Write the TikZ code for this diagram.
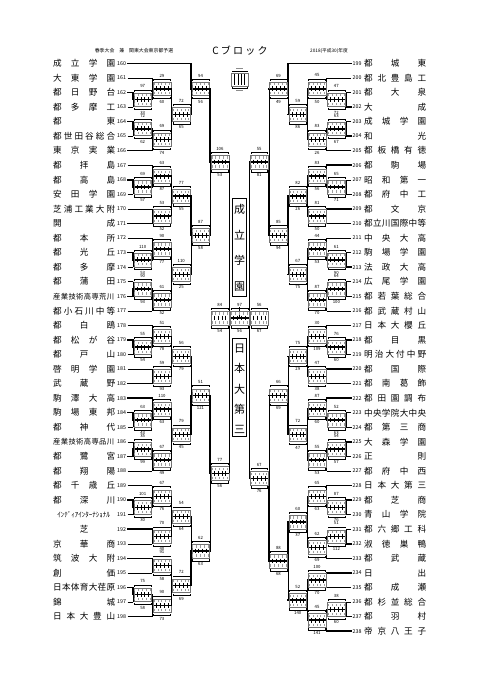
\documentclass[tikz,border=0pt]{standalone}
\usepackage{fontspec}
\setmainfont{Noto Sans CJK JP}
\makeatletter
\def\spreadchars#1{\spr@first#1\spr@end}
\def\spr@first#1{#1\spr@rest}
\def\spr@rest#1{\ifx#1\spr@end\else\hfill#1\expandafter\spr@rest\fi}
\let\spr@end\relax
\makeatother
\newcommand\setY[2]{\expandafter\xdef\csname yy#1\endcsname{#2}}
\newcommand\getY[1]{\csname yy#1\endcsname}
\tikzset{
 thinln/.style={line width=0.5pt},
 win/.style={line width=1.5pt, line cap=rect},
 boxln/.style={line width=0.3pt, draw=black!55},
 brk/.style={line width=0.35pt},
 tck/.style={line width=0.35pt},
 dig/.style={fill=black!38},
 lab/.style={font=\fontsize{4.3}{5}\selectfont, inner sep=0pt},
 num/.style={font=\fontsize{5.3}{6}\selectfont, inner sep=0pt},
 nm/.style={font=\fontsize{8.6}{9}\selectfont, inner sep=0pt},
 nmsmall/.style={font=\fontsize{7.3}{8}\selectfont, inner sep=0pt},
 big/.style={font=\fontsize{11}{11}\selectfont, inner sep=0pt},
}
\newcommand\scorebox[6]{% key xl xr ym lt lb
 \pgfmathsetmacro\sbw{(#3-#2)/5}%
 \draw[boxln] (#2+0.8,#4-6.8) rectangle (#3-0.8,#4+6.8);
 \draw[brk] (#2+1.2,#4-8.2) -- (#2+1.2,#4-9.8) -- (#3-1.2,#4-9.8) -- (#3-1.2,#4-8.2);
 \draw[brk] (#2+1.2,#4+8.2) -- (#2+1.2,#4+9.8) -- (#3-1.2,#4+9.8) -- (#3-1.2,#4+8.2);
 \foreach \j in {0,...,4}{%
   \fill[dig] (#2+\j*\sbw+\sbw/2-0.5,#4-5.6) rectangle ++(1,2.2);
   \fill[dig] (#2+\j*\sbw+\sbw/2-0.5,#4+3.4) rectangle ++(1,2.2);}
 \foreach \j in {1,...,4}{\draw[tck] (#2+\j*\sbw,#4-2.4) -- ++(0,4.8);}
 \node[lab] (#1t) at ({(#2+#3)/2},#4-13.3) {#5};
 \node[lab] (#1b) at ({(#2+#3)/2},#4+12.9) {#6};
}
\newcommand\matchL[7]{%
 \pgfmathsetmacro\xl{133+(#2-1)*19.3}%
 \pgfmathsetmacro\xr{\xl+19.3}%
 \edef\ya{\getY{#3}}\edef\yb{\getY{#4}}%
 \pgfmathsetmacro\ym{(\ya+\yb)/2}%
 \setY{#1}{\ym}%
 \draw[thinln] (\xl,\ya) -- (\xl,\yb);
 \if#5t\draw[win] (\xl,\ya) -- (\xl,\ym) -- (\xr,\ym);\else\draw[win] (\xl,\yb) -- (\xl,\ym) -- (\xr,\ym);\fi
 \scorebox{#1}{\xl}{\xr}{\ym}{#6}{#7}%
}
\newcommand\matchR[7]{%
 \pgfmathsetmacro\xo{346-(#2-1)*19.3}%
 \pgfmathsetmacro\xin{\xo-19.3}%
 \edef\ya{\getY{#3}}\edef\yb{\getY{#4}}%
 \pgfmathsetmacro\ym{(\ya+\yb)/2}%
 \setY{#1}{\ym}%
 \draw[thinln] (\xo,\ya) -- (\xo,\yb);
 \if#5t\draw[win] (\xo,\ya) -- (\xo,\ym) -- (\xin,\ym);\else\draw[win] (\xo,\yb) -- (\xo,\ym) -- (\xin,\ym);\fi
 \scorebox{#1}{\xin}{\xo}{\ym}{#6}{#7}%
}
\begin{document}
\begin{tikzpicture}[x=1pt,y=-1pt]
\fill[white] (0,0) rectangle (481,680);
\useasboundingbox (0,0) rectangle (481,680);
% header
\node[inner sep=0,font=\fontsize{4.9}{5}\selectfont] (hl) at (134,51) {春季大会　兼　関東大会東京都予選};
\node[inner sep=0,font=\fontsize{10}{10}\selectfont] (hc) at (240,51) {C\hspace{2.2pt}ブ\hspace{2.2pt}ロ\hspace{2.2pt}ッ\hspace{2.2pt}ク};
\node[inner sep=0,font=\fontsize{4.7}{5}\selectfont] (hr) at (329,51) {2018(平成30)年度};
% legend
\draw[boxln] (231,73) rectangle (248,86);
\draw[brk] (232,72) -- (232,70.8) -- (247,70.8) -- (247,72);
\draw[brk] (232,87) -- (232,88.2) -- (247,88.2) -- (247,87);
\foreach \j in {1,...,4}{\draw[tck] (231+\j*3.4,74) -- ++(0,11);}
\draw[line width=0.6pt, black!45] (236,68.3) -- (243,68.3);
\draw[line width=0.6pt, black!45] (236,90.6) -- (243,90.6);
% team positions
\foreach \i in {160,...,198}{\pgfmathsetmacro\tmpy{63.3+14.56*(\i-160)}\setY{\i}{\tmpy}}
\foreach \i in {199,...,238}{\pgfmathsetmacro\tmpy{63.3+14.56*(\i-199)}\setY{\i}{\tmpy}}
% numbers
\foreach \i in {160,...,198}{\edef\ye{\getY{\i}}\node[num,anchor=west] (num\i) at (117,\ye) {\i};}
\foreach \i in {199,...,238}{\edef\ye{\getY{\i}}\node[num,anchor=west] (num\i) at (352.5,\ye) {\i};}
% names left
\foreach \i/\nm in {160/成立学園,161/大東学園,162/都日野台,163/都多摩工,164/都東,165/都世田谷総合,166/東京実業,167/都拝島,168/都高島,169/安田学園,170/芝浦工業大附,171/開成,172/都本所,173/都光丘,174/都多摩,175/都蒲田,177/都小石川中等,178/都白鴎,179/都松が谷,180/都戸山,181/啓明学園,182/武蔵野,183/駒澤大高,184/駒場東邦,185/都神代,187/都鷺宮,188/都翔陽,189/都千歳丘,190/都深川,193/京華商,194/筑波大附,195/創価,196/日本体育大荏原,197/錦城,198/日本大豊山}{%
 \edef\ye{\getY{\i}}\node[nm,anchor=west] (nm\i) at (53,\ye) {\hbox to 62pt{\expandafter\spreadchars\expandafter{\nm}}};}
\foreach \i/\nm in {176/産業技術高専荒川,186/産業技術高専品川}{%
 \edef\ye{\getY{\i}}\node[nmsmall,anchor=west] (nm\i) at (53,\ye) {\hbox to 61pt{\expandafter\spreadchars\expandafter{\nm}}};}
\edef\ye{\getY{191}}\node[inner sep=0,anchor=west,font=\fontsize{7.0}{8}\selectfont] (nm191) at (53,\ye) {\hbox to 61pt{\hfil ｲﾝﾃﾞｨｱｲﾝﾀｰﾅｼｮﾅﾙ\hfil}};
\edef\ye{\getY{192}}\node[nm,anchor=west] (nm192) at (53,\ye) {\hbox to 62pt{\hfil 芝\hfil}};
% names right
\foreach \i/\nm in {199/都城東,200/都北豊島工,201/都大泉,202/大成,203/成城学園,204/和光,205/都板橋有徳,206/都駒場,207/昭和第一,208/都府中工,209/都文京,210/都立川国際中等,211/中央大高,212/駒場学園,213/法政大高,214/広尾学園,215/都若葉総合,216/都武蔵村山,217/日本大櫻丘,218/都目黒,219/明治大付中野,220/都国際,221/都南葛飾,222/都田園調布,223/中央学院大中央,224/都第三商,225/大森学園,226/正則,227/都府中西,228/日本大第三,229/都芝商,230/青山学院,231/都六郷工科,232/淑徳巣鴨,233/都武蔵,234/日出,235/都成瀬,236/都杉並総合,237/都羽村,238/帝京八王子}{%
 \edef\ye{\getY{\i}}\node[nm,anchor=west] (nm\i) at (364,\ye) {\hbox to 62pt{\expandafter\spreadchars\expandafter{\nm}}};}
% entry lines
\foreach \i/\w/\c in {160/1/4,161/0/2,162/1/1,163/0/1,164/1/1,165/0/1,166/1/2,167/0/2,168/1/1,169/0/1,170/0/2,171/1/2,172/0/2,173/1/1,174/0/1,175/0/1,176/1/1,177/0/2,178/0/2,179/1/1,180/0/1,181/0/2,182/1/2,183/1/2,184/1/1,185/0/1,186/0/1,187/1/1,188/0/2,189/0/2,190/1/1,191/0/1,192/1/2,193/0/2,194/1/2,195/0/2,196/1/1,197/0/1,198/0/2}{%
 \edef\ye{\getY{\i}}\pgfmathsetmacro\xe{133+(\c-1)*19.3}%
 \ifnum\w=1 \draw[win] ([xshift=1.5pt]num\i.east) -- (\xe,\ye);\else\draw[thinln] ([xshift=1.5pt]num\i.east) -- (\xe,\ye);\fi}
\foreach \i/\w/\c in {199/1/4,200/0/2,201/0/1,202/1/1,203/0/1,204/1/1,205/0/2,206/1/2,207/0/1,208/1/1,209/1/2,210/0/2,211/0/2,212/0/1,213/1/1,214/0/1,215/1/1,216/0/2,217/0/2,218/1/1,219/0/1,220/1/2,221/0/2,222/1/2,223/0/1,224/1/1,225/1/1,226/0/1,227/0/2,228/1/2,229/1/1,230/0/1,231/0/1,232/1/1,233/1/2,234/1/2,235/0/2,236/0/1,237/1/1,238/1/2}{%
 \edef\ye{\getY{\i}}\pgfmathsetmacro\xe{346-(\c-1)*19.3}%
 \ifnum\w=1 \draw[win] ([xshift=-1.5pt]num\i.west) -- (\xe,\ye);\else\draw[thinln] ([xshift=-1.5pt]num\i.west) -- (\xe,\ye);\fi}
% left matches
\matchL{M1}{1}{162}{163}{t}{97}{33}
\matchL{M2}{2}{161}{M1}{b}{29}{60}
\matchL{M3}{1}{164}{165}{t}{72}{62}
\matchL{M4}{2}{M3}{166}{b}{69}{74}
\matchL{M5}{3}{M2}{M4}{t}{72}{65}
\matchL{M6}{4}{160}{M5}{t}{94}{56}
\matchL{M7}{1}{168}{169}{t}{69}{57}
\matchL{M8}{2}{167}{M7}{b}{63}{87}
\matchL{M9}{2}{170}{171}{b}{53}{52}
\matchL{M10}{3}{M8}{M9}{t}{77}{55}
\matchL{M12}{1}{173}{174}{t}{110}{53}
\matchL{M13}{2}{172}{M12}{b}{90}{77}
\matchL{M14}{1}{175}{176}{b}{90}{93}
\matchL{M15}{2}{M14}{177}{t}{61}{52}
\matchL{M16}{3}{M13}{M15}{t}{110}{25}
\matchL{M11}{4}{M10}{M16}{t}{87}{58}
\matchL{MT}{5}{M6}{M11}{t}{106}{53}
\matchL{M17}{1}{179}{180}{t}{55}{54}
\matchL{M18}{2}{178}{M17}{b}{51}{78}
\matchL{M19}{2}{181}{182}{b}{59}{93}
\matchL{M20}{3}{M18}{M19}{b}{56}{79}
\matchL{M21}{1}{184}{185}{t}{63}{43}
\matchL{M22}{2}{183}{M21}{t}{110}{63}
\matchL{M23}{1}{186}{187}{b}{35}{99}
\matchL{M24}{2}{M23}{188}{t}{67}{49}
\matchL{M25}{3}{M22}{M24}{t}{79}{45}
\matchL{M26}{4}{M20}{M25}{b}{51}{121}
\matchL{M27}{1}{190}{191}{t}{101}{30}
\matchL{M28}{2}{189}{M27}{b}{67}{76}
\matchL{M29}{2}{192}{193}{t}{70}{40}
\matchL{M30}{3}{M28}{M29}{b}{54}{64}
\matchL{M33}{2}{194}{195}{t}{91}{58}
\matchL{M34}{1}{196}{197}{t}{75}{58}
\matchL{M35}{2}{M34}{198}{t}{90}{73}
\matchL{M32}{3}{M33}{M35}{t}{72}{69}
\matchL{M31}{4}{M30}{M32}{b}{62}{63}
\matchL{M36}{5}{M26}{M31}{t}{77}{56}
% right matches
\matchR{R1}{1}{201}{202}{b}{47}{72}
\matchR{R2}{2}{200}{R1}{b}{45}{50}
\matchR{R4}{1}{203}{204}{b}{63}{67}
\matchR{R5}{2}{R4}{205}{t}{83}{26}
\matchR{R3}{3}{R2}{R5}{b}{59}{86}
\matchR{R6}{4}{199}{R3}{t}{69}{49}
\matchR{R7}{1}{207}{208}{b}{65}{71}
\matchR{R8}{2}{206}{R7}{t}{83}{56}
\matchR{R9}{2}{209}{210}{t}{81}{50}
\matchR{R10}{3}{R8}{R9}{t}{82}{26}
\matchR{R12}{1}{212}{213}{b}{61}{90}
\matchR{R13}{2}{211}{R12}{b}{44}{53}
\matchR{R14}{1}{214}{215}{b}{64}{100}
\matchR{R15}{2}{R14}{216}{t}{87}{70}
\matchR{R16}{3}{R13}{R15}{b}{67}{75}
\matchR{R11}{4}{R10}{R16}{t}{85}{94}
\matchR{RT}{5}{R6}{R11}{b}{55}{81}
\matchR{R17}{1}{218}{219}{t}{76}{60}
\matchR{R18}{2}{217}{R17}{b}{30}{109}
\matchR{R19}{2}{220}{221}{t}{47}{38}
\matchR{R20}{3}{R18}{R19}{t}{75}{29}
\matchR{R21}{1}{223}{224}{b}{52}{63}
\matchR{R22}{2}{222}{R21}{t}{87}{60}
\matchR{R23}{1}{225}{226}{t}{54}{57}
\matchR{R24}{2}{R23}{227}{t}{55}{53}
\matchR{R25}{3}{R22}{R24}{t}{72}{47}
\matchR{R26}{4}{R20}{R25}{b}{66}{69}
\matchR{R27}{1}{229}{230}{t}{87}{76}
\matchR{R28}{2}{228}{R27}{t}{65}{63}
\matchR{R29}{1}{231}{232}{b}{51}{112}
\matchR{R30}{2}{R29}{233}{b}{62}{69}
\matchR{R31}{3}{R28}{R30}{t}{60}{37}
\matchR{R32}{2}{234}{235}{t}{100}{70}
\matchR{R33}{1}{236}{237}{b}{38}{60}
\matchR{R34}{2}{R33}{238}{b}{45}{141}
\matchR{R35}{3}{R32}{R34}{b}{52}{140}
\matchR{R36}{4}{R31}{R35}{t}{88}{68}
\matchR{R37}{5}{R26}{R36}{b}{67}{76}
% semifinals and final
\edef\yT{\getY{MT}}\edef\yB{\getY{M36}}
\edef\yRT{\getY{RT}}\edef\yRB{\getY{R37}}
\draw[thinln] (229.5,\yT) -- (229.5,\yB);
\draw[thinln] (249.5,\yRT) -- (249.5,\yRB);
\draw[win] (229.5,\yT) -- (229.5,318) -- (249.5,318);
\draw[win] (249.5,\yRB) -- (249.5,318);
\draw[win] (239.5,318) -- (239.5,307.5);
\scorebox{SFL}{210.2}{229.5}{318}{84}{54}
\scorebox{FIN}{229.5}{249.5}{318}{97}{56}
\scorebox{SFR}{249.5}{268.8}{318}{56}{67}
% finalist name boxes
\draw[line width=1.1pt] (232.7,198.3) rectangle (246.3,296.7);
\node[big] (fa1) at (239.5,209) {成};
\node[big] (fa2) at (239.5,235) {立};
\node[big] (fa3) at (239.5,260.5) {学};
\node[big] (fa4) at (239.5,286.5) {園};
\draw[line width=1.1pt] (232.7,338.3) rectangle (246.3,436.7);
\node[big] (fb1) at (239.5,348.5) {日};
\node[big] (fb2) at (239.5,368.8) {本};
\node[big] (fb3) at (239.5,389) {大};
\node[big] (fb4) at (239.5,409.5) {第};
\node[big] (fb5) at (239.5,429) {三};
\end{tikzpicture}
\end{document}
